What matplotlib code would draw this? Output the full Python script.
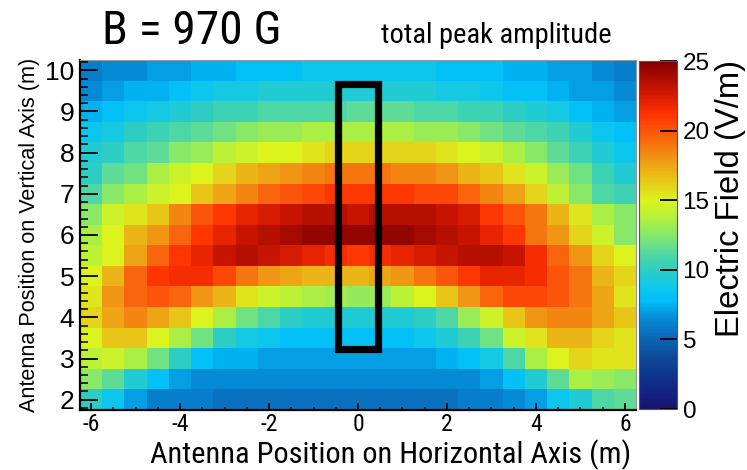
import numpy as np
import matplotlib
matplotlib.use("Agg")
import matplotlib.pyplot as plt
from matplotlib.colors import LinearSegmentedColormap
from matplotlib.ticker import MultipleLocator, FixedLocator
from matplotlib.patches import Rectangle
from matplotlib import font_manager as fm

# ---------------- data ----------------
x_pos = [-6.0, -5.5, -5.0, -4.5, -4.0, -3.5, -3.0, -2.5, -2.0, -1.5, -1.0, -0.5, 0.0,
         0.5, 1.0, 1.5, 2.0, 2.5, 3.0, 3.5, 4.0, 4.5, 5.0, 5.5, 6.0]
y_pos = [10.0, 9.5, 9.0, 8.5, 8.0, 7.5, 7.0, 6.5, 6.0, 5.5, 5.0, 4.5, 4.0, 3.5, 3.0, 2.5, 2.0]

row_y10 = [6, 6.5, 6.5, 7, 7, 7.5, 7.5, 8, 8, 8, 8.5, 8.5, 8.5, 8.5, 8.5, 8.5, 8, 8, 8, 7.5, 7.5, 7, 7, 6.5, 6]
row_y95 = [6.5, 7, 7.5, 7.5, 8, 8.5, 9, 9, 9.5, 9.5, 9.5, 9.5, 9.5, 9.5, 9.5, 9.5, 9, 9, 8.5, 8, 8, 7.5, 7, 7, 6.5]
row_y9 = [7.5, 8, 8.5, 9, 9.5, 10, 10.5, 10.5, 11, 11, 11, 11, 11.5, 11.5, 11.5, 11, 11, 10.5, 10.5, 10, 9.5, 9, 8, 7.5, 7]
row_y85 = [8.5, 9, 10, 10.5, 11, 11.5, 12, 12.5, 13, 13, 13.5, 13.5, 13.5, 13.5, 13.5, 13, 13, 12.5, 12, 11.5, 11, 10.5, 9.5, 8.5, 8]
row_y8 = [9.5, 10, 11, 11.5, 12.5, 13, 14, 14.5, 15, 15, 15.5, 16, 16, 16, 16, 16, 15.5, 15, 14.5, 13.5, 12.5, 11.5, 10.5, 9.5, 8.5]
row_y75 = [10, 11.5, 12, 13.5, 14.5, 15, 16, 17, 17.5, 18, 18.5, 19, 19, 19, 18.5, 18.5, 18, 17, 16.5, 15.5, 14.5, 13, 12, 10.5, 9.5]
row_y7 = [11, 12.5, 13.5, 14.5, 15, 16.5, 17.5, 18.5, 19.5, 20, 20.5, 21, 21, 21, 21, 20.5, 20.5, 19.5, 18.5, 17.5, 16, 14, 12.5, 11, 10.5]
row_y65 = [12.5, 14.5, 15.5, 16.5, 18.5, 20, 21, 22, 22.5, 23, 23.5, 23.5, 23, 23.5, 23.5, 23.5, 23, 22.5, 21, 20, 19, 17, 15.5, 13.5, 12.5]
row_y6 = [13.5, 15, 17, 18, 19.5, 21, 22, 23, 23.5, 24, 24.5, 24.5, 24.5, 24.5, 24.5, 24, 23.5, 23, 22, 21, 19, 18, 16, 14.5, 12.5]
row_y55 = [14, 15, 17.5, 19.5, 21, 22, 23, 23.5, 23, 22.5, 22, 21.5, 21, 21.5, 22, 22.5, 23, 23.5, 23.5, 23, 21.5, 19.5, 18, 16, 15]
row_y5 = [15, 17, 19.5, 21, 21.5, 21.5, 20.5, 19, 18, 17.5, 17, 17, 17, 17.5, 18, 19, 20, 21, 22, 22, 21.5, 20, 19, 17, 16]
row_y45 = [15.5, 18, 19.5, 20, 19.5, 18, 17, 15.5, 14.5, 14, 13.5, 13.2, 12.8, 13, 14, 15, 16.5, 18, 19.5, 20.5, 20.5, 20, 19, 17.5, 15.5]
row_y4 = [16, 17.5, 18.5, 17.5, 16.5, 15, 13.5, 12, 11, 10, 9.5, 9.5, 9.5, 9.5, 9.5, 10, 11, 13, 14.5, 16.5, 18, 18.5, 18.5, 17.5, 16.5]
row_y35 = [15, 16.5, 16.5, 15, 13.5, 12, 10, 9, 8.5, 8, 8, 8, 8, 8, 8, 8.5, 9.5, 10.5, 12, 14.5, 15.5, 17, 17, 16, 15.5]
row_y3 = [14, 14.5, 13.5, 12, 10, 8, 7.5, 7.5, 7, 7, 7, 7, 7, 7, 7, 7, 7.5, 8, 9, 11, 13.5, 15, 16, 15.5, 15.5]
row_y25 = [12.5, 11.5, 9.5, 8, 7, 6.5, 6.5, 6.5, 6.5, 6.5, 6.5, 6.5, 6.5, 6.5, 6.5, 6.5, 6.5, 6.5, 7, 8, 9.5, 11.5, 13.5, 13, 12.5]
row_y2 = [10, 8.5, 7, 6, 6, 6, 5.5, 5.5, 5.5, 5.5, 5.5, 5.5, 5.5, 5.5, 5.5, 5.5, 5.5, 6, 6, 6.5, 7, 8.5, 9.5, 11, 11.5]

field = np.array([row_y10, row_y95, row_y9, row_y85, row_y8, row_y75, row_y7, row_y65,
                  row_y6, row_y55, row_y5, row_y45, row_y4, row_y35, row_y3, row_y25, row_y2])

x_ticks = [-6, -4, -2, 0, 2, 4, 6]
y_ticks = [2, 3, 4, 5, 6, 7, 8, 9, 10]
cbar_ticks = [0, 5, 10, 15, 20, 25]
vmin, vmax = 0, 25

box_x0, box_x1 = -0.45, 0.45
box_y0, box_y1 = 3.22, 9.67

title_text = "B = 970 G"
subtitle_text = "total peak amplitude"
xlabel_text = "Antenna Position on Horizontal Axis (m)"
ylabel_text = "Antenna Position on Vertical Axis (m)"
cbar_text = "Electric Field (V/m)"

# ---------------- colormap (sampled from the colour bar) ----------------
stops = [
    (0.00, (25, 20, 110)), (0.06, (15, 40, 135)), (0.14, (12, 70, 150)),
    (0.20, (12, 100, 180)), (0.26, (5, 140, 215)), (0.31, (0, 190, 250)),
    (0.35, (15, 200, 235)), (0.40, (45, 205, 195)), (0.46, (95, 220, 150)),
    (0.50, (135, 232, 105)), (0.55, (180, 240, 60)), (0.60, (220, 243, 30)),
    (0.65, (230, 205, 25)), (0.72, (240, 150, 20)), (0.80, (250, 85, 10)),
    (0.85, (255, 50, 0)), (0.92, (200, 20, 0)), (1.00, (130, 0, 0)),
]
cmap = LinearSegmentedColormap.from_list(
    "rootlike", [(p, tuple(c / 255 for c in rgb)) for p, rgb in stops], N=256)

# ---------------- fonts ----------------
avail = {f.name for f in fm.fontManager.ttflist}
NARROW = next((n for n in ["Liberation Sans Narrow", "Roboto Condensed", "Open Sans Condensed"]
               if n in avail), "Liberation Sans")
BASE = "Liberation Sans" if "Liberation Sans" in avail else "DejaVu Sans"

W, H = 747, 470
fig = plt.figure(figsize=(W / 100, H / 100), dpi=100)
fig.patch.set_facecolor("white")

def fx(px):
    return px / W

def fy(py):
    return 1 - py / H

ax = fig.add_axes([fx(80), fy(410), fx(636) - fx(80), fy(60) - fy(410)])
cax = fig.add_axes([fx(639), fy(409), fx(677) - fx(639), fy(61) - fy(409)])

mesh = ax.pcolormesh(x_pos, y_pos, field, shading="nearest", cmap=cmap,
                     vmin=vmin, vmax=vmax, edgecolors="none", antialiased=False)
ax.set_xlim(-6.25, 6.25)
ax.set_ylim(1.75, 10.25)

ax.add_patch(Rectangle((box_x0, box_y0), box_x1 - box_x0, box_y1 - box_y0,
                       fill=False, edgecolor="black", linewidth=5.2, zorder=5))

for s in ["left", "bottom"]:
    ax.spines[s].set_color("black")
    ax.spines[s].set_linewidth(1.6)
for s in ["top", "right"]:
    ax.spines[s].set_color("#999999")
    ax.spines[s].set_linewidth(0.8)

ax.xaxis.set_major_locator(FixedLocator(x_ticks))
ax.xaxis.set_minor_locator(MultipleLocator(0.5))
ax.yaxis.set_major_locator(FixedLocator(y_ticks))
ax.yaxis.set_minor_locator(MultipleLocator(0.2))
ax.tick_params(which="both", direction="in", top=False, right=False, color="black")
ax.tick_params(axis="x", which="major", length=5, width=1.3, pad=2.5, labelsize=17)
ax.tick_params(axis="x", which="minor", length=2.5, width=1.1)
ax.tick_params(axis="y", which="major", length=13, width=1.3, pad=4, labelsize=19)
ax.tick_params(axis="y", which="minor", length=6, width=1.1)
ax.set_xticklabels([str(t) for t in x_ticks], fontfamily=NARROW)
ax.set_yticklabels([str(t) for t in y_ticks], fontfamily=BASE)

cb = fig.colorbar(mesh, cax=cax)
cb.set_ticks(cbar_ticks)
cb.set_ticklabels([str(t) for t in cbar_ticks])
cb.outline.set_linewidth(0.8)
cb.outline.set_edgecolor("#555555")
cax.yaxis.set_ticks_position("right")
cax.tick_params(direction="in", length=12, width=1.3, pad=4, labelsize=17.5, color="black")
for lab in cax.get_yticklabels():
    lab.set_fontfamily(BASE)
cax.minorticks_off()

t_title = fig.text(fx(102), fy(44), title_text, ha="left", va="baseline",
                   fontsize=24, fontfamily=NARROW)
t_sub = fig.text(fx(381), fy(43), subtitle_text, ha="left", va="baseline",
                 fontsize=14, fontfamily=NARROW)
t_xl = fig.text(fx(391), fy(463), xlabel_text, ha="center", va="baseline",
                fontsize=20, fontfamily=NARROW)
t_yl = fig.text(fx(30), fy(235), ylabel_text, ha="center", va="center",
                rotation=90, fontsize=13, fontfamily=BASE)
t_cb = fig.text(fx(730), fy(60), cbar_text, ha="center", va="top",
                rotation=90, fontsize=20, fontfamily=BASE)

# size the texts so their lengths match the reference
fig.canvas.draw()
r = fig.canvas.get_renderer()
for t, target, vertical in [(t_title, 179, False), (t_sub, 231, False), (t_xl, 480, False),
                            (t_yl, 354, True), (t_cb, 277, True)]:
    bb = t.get_window_extent(renderer=r)
    cur = bb.height if vertical else bb.width
    t.set_fontsize(t.get_fontsize() * target / cur)

fig.savefig("out.png", dpi=100, facecolor="white")
